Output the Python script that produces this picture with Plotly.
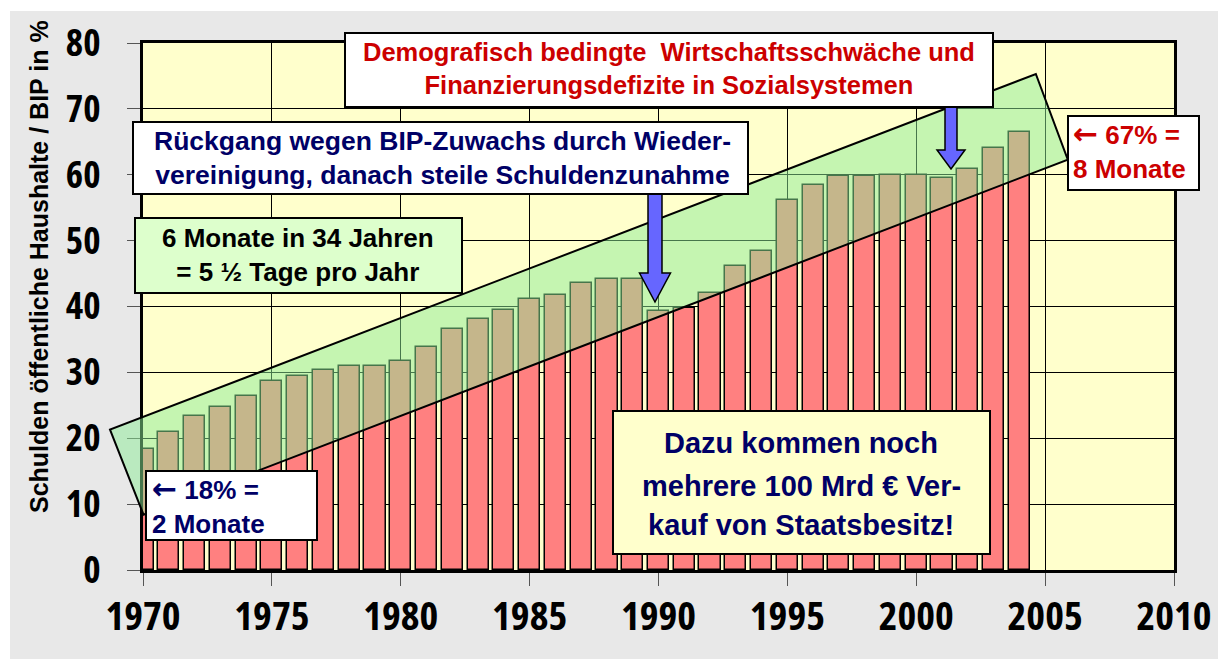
import plotly.graph_objects as go

# ---------------- data ----------------
years = list(range(1970, 2005))
debt_ratio = [18.4, 21.0, 23.4, 24.8, 26.4, 28.7, 29.4, 30.4, 31.0, 31.0,
              31.7, 33.8, 36.6, 38.1, 39.5, 41.1, 41.8, 43.6, 44.2, 44.2,
              39.3, 39.8, 42.1, 46.2, 48.5, 56.2, 58.5, 59.8, 59.8, 60.0,
              60.0, 59.5, 60.8, 64.1, 66.5]
x_ticks = [1970, 1975, 1980, 1985, 1990, 1995, 2000, 2005, 2010]
y_ticks = [0, 10, 20, 30, 40, 50, 60, 70, 80]

ARROW = "<span style='font-family:DejaVu Sans;font-size:30px'>←</span>"
y_title = "Schulden öffentliche Haushalte / BIP in %"
txt_red = "Demografisch bedingte&nbsp; Wirtschaftsschwäche und<br>Finanzierungsdefizite in Sozialsystemen"
txt_blue = "Rückgang wegen BIP-Zuwachs durch Wieder-<br>vereinigung, danach steile Schuldenzunahme"
txt_green = "6 Monate in 34 Jahren<br>= 5 ½ Tage pro Jahr"
txt_18 = ARROW + " 18% =<br>2 Monate"
txt_67 = ARROW + " 67% =<br>8 Monate"
txt_dazu = ["Dazu kommen noch", "mehrere 100 Mrd € Ver-", "kauf von Staatsbesitz!"]

# ---------------- layout geometry (pixels) ----------------
W, H = 1218, 659
PL, PR, PT, PB = 143, 1174, 43, 570
XR = (1970, 2010)
YR = (0, 80)


def px(x):
    return (x - PL) / (PR - PL)


def py(y):
    return (PB - y) / (PB - PT)


def dx(v):  # data x -> paper
    return (v - XR[0]) / (XR[1] - XR[0])


def dy(v):  # data y -> paper
    return (v - YR[0]) / (YR[1] - YR[0])


TICKFONT = "Open Sans, Liberation Sans, sans-serif"
TEXTFONT = "Liberation Sans, Arial, sans-serif"
NAVY = "#000066"
RED = "#CC0000"

fig = go.Figure()
fig.add_trace(go.Bar(
    x=years, y=debt_ratio, width=0.82,
    marker=dict(color="#FF8080", line=dict(color="black", width=1.5)),
    showlegend=False, hoverinfo="x+y"))

shapes = []
shapes.append(dict(type="rect", xref="paper", yref="paper", layer="below",
                   x0=px(0), x1=px(10), y0=py(0), y1=py(H), fillcolor="white", line_width=0))
shapes.append(dict(type="rect", xref="paper", yref="paper", layer="below",
                   x0=px(0), x1=px(W), y0=py(0), y1=py(11), fillcolor="white", line_width=0))

band = [(1968.72, 21.3), (1970.02, 8.4), (2005.88, 62.3), (2004.64, 75.3)]
path = "M " + " L ".join(f"{dx(a):.5f},{dy(b):.5f}" for a, b in band) + " Z"
shapes.append(dict(type="path", xref="paper", yref="paper", layer="above", path=path,
                   fillcolor="rgba(140,235,150,0.5)", line=dict(color="black", width=2)))


def box(x0, x1, y0, y1, fill):
    shapes.append(dict(type="rect", xref="paper", yref="paper", layer="above",
                       x0=px(x0), x1=px(x1), y0=py(y1), y1=py(y0),
                       fillcolor=fill, line=dict(color="black", width=2)))


def arrow(xc, y_top, y_head, y_tip, shaft_w, head_w):
    pts = [(xc - shaft_w / 2, y_top), (xc + shaft_w / 2, y_top), (xc + shaft_w / 2, y_head),
           (xc + head_w / 2, y_head), (xc, y_tip), (xc - head_w / 2, y_head),
           (xc - shaft_w / 2, y_head)]
    p = "M " + " L ".join(f"{px(a):.5f},{py(b):.5f}" for a, b in pts) + " Z"
    shapes.append(dict(type="path", xref="paper", yref="paper", layer="above", path=p,
                       fillcolor="#6666FF", line=dict(color="black", width=1.5)))


arrow(655, 194, 273, 302, 14, 31)
arrow(951, 107, 150, 169, 12, 28)
box(345, 993, 33, 107, "white")
box(133, 748, 122, 194, "white")
box(135, 462, 218, 293, "#DDFFCC")
box(146, 317, 471, 540, "white")
box(1068, 1199, 116, 190, "white")
box(613, 990, 411, 554, "#FFFFCC")

annotations = []


def text(x, y, s, color, size, align="center", xanchor="center"):
    annotations.append(dict(xref="paper", yref="paper", x=px(x), y=py(y), text=s,
                            showarrow=False, align=align, xanchor=xanchor, yanchor="middle",
                            font=dict(family=TEXTFONT, size=size, color=color, weight="bold")))


text(669, 69, txt_red, RED, 25.5)
text(442, 158, txt_blue, NAVY, 26.5)
text(298, 255, txt_green, "black", 26)
text(150, 505, txt_18, NAVY, 26, align="left", xanchor="left")
text(1071, 150, txt_67, RED, 26, align="left", xanchor="left")
for yy, s in zip([443, 486, 525], txt_dazu):
    text(801, yy, s, NAVY, 29)

annotations.append(dict(xref="paper", yref="paper", x=px(39), y=py(267), text=y_title,
                        textangle=-90, showarrow=False, xanchor="center", yanchor="middle",
                        font=dict(family=TEXTFONT, size=25, color="black", weight="bold")))

fig.update_layout(
    width=W, height=H,
    margin=dict(l=PL, r=W - PR, t=PT, b=H - PB, pad=0, autoexpand=False),
    paper_bgcolor="#E8E8E8", plot_bgcolor="#FFFFCC",
    shapes=shapes, annotations=annotations,
    bargap=0,
    xaxis=dict(range=list(XR), tickvals=x_ticks, ticktext=[str(v) for v in x_ticks],
               automargin=False,
               showgrid=True, gridcolor="black", gridwidth=1,
               showline=True, linecolor="black", linewidth=3, mirror=True,
               ticks="outside", ticklen=13, tickcolor="#555", tickwidth=1,
               ticklabelstandoff=-4,
               tickfont=dict(family=TICKFONT, size=40, color="black", weight="bold"),
               zeroline=False, fixedrange=True),
    yaxis=dict(range=list(YR), tickvals=y_ticks, ticktext=[str(v) for v in y_ticks],
               automargin=False,
               showgrid=True, gridcolor="black", gridwidth=1,
               showline=True, linecolor="black", linewidth=3, mirror=True,
               ticks="outside", ticklen=13, tickcolor="#555", tickwidth=1,
               ticklabelstandoff=19,
               tickfont=dict(family=TICKFONT, size=37, color="black", weight="bold"),
               zeroline=False, fixedrange=True),
)

fig.write_html("out.html", config={"displayModeBar": False})

css = ("<style>html,body{margin:0;padding:0;overflow:hidden}"
       ".xtick text,.ytick text{font-stretch:75% !important}</style>")
with open("out.html", encoding="utf-8") as f:
    html = f.read()
html = html.replace("<head>", "<head>" + css, 1)
with open("out.html", "w", encoding="utf-8") as f:
    f.write(html)
